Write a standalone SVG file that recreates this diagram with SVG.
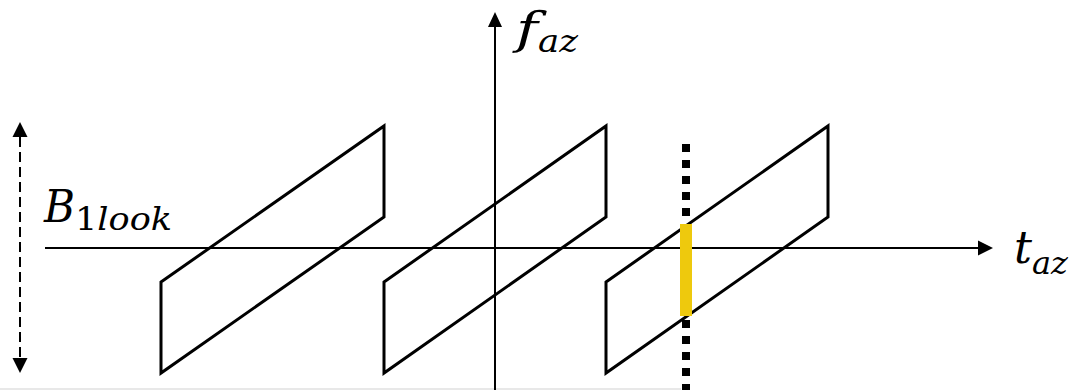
<svg xmlns="http://www.w3.org/2000/svg" width="1076" height="390" viewBox="0 0 1076 390">
<style>
.shape{fill:none;stroke:#000;stroke-width:3;stroke-linejoin:miter}
.axis{stroke:#000;stroke-width:2;fill:none}
.head{fill:#000;stroke:none}
.math{font-family:"DejaVu Serif","Liberation Serif",serif;font-style:italic;fill:#000}
.up{font-style:normal}
.big{font-size:44px}
.sub{font-size:31px}
</style>
<rect x="0" y="0" width="1076" height="390" fill="#fff"/>
<rect x="0" y="388" width="681" height="2" fill="#e8e8e8"/>
<g id="connectors">
  <line class="axis" x1="45" y1="248" x2="980" y2="248"/>
  <polygon class="head" points="978,240.5 993,248 978,255.5"/>
  <line class="axis" x1="495" y1="390" x2="495" y2="25"/>
  <polygon class="head" points="488,27 495,12 502,27"/>
  <line class="axis" x1="20" y1="137" x2="20" y2="358" stroke-dasharray="10 5"/>
  <polygon class="head" points="12.5,137 20,122 27.5,137"/>
  <polygon class="head" points="12.5,358 20,373 27.5,358"/>
</g>
<g id="parallelogram1"><polygon class="shape" points="161,282 384,126 384,217 161,373"/></g>
<g id="parallelogram2"><polygon class="shape" points="384,282 606,126 606,217 384,373"/></g>
<g id="parallelogram3"><polygon class="shape" points="606,282 828,126 828,217 606,373"/></g>
<g id="cut-line">
  <line x1="686" y1="144" x2="686" y2="390" stroke="#000" stroke-width="8" stroke-dasharray="8 8"/>
  <rect x="680" y="224" width="12" height="92" fill="#EEC90D"/>
</g>
<g id="label-faz">
  <text class="math big" x="516" y="44" textLength="22" lengthAdjust="spacingAndGlyphs">f</text>
  <text class="math sub" x="538" y="52" textLength="40" lengthAdjust="spacingAndGlyphs">az</text>
</g>
<g id="label-taz">
  <text class="math big" x="1014" y="263" textLength="18" lengthAdjust="spacingAndGlyphs">t</text>
  <text class="math sub" x="1032" y="274" textLength="36" lengthAdjust="spacingAndGlyphs">az</text>
</g>
<g id="label-B1look">
  <text class="math big" x="44" y="222" textLength="31" lengthAdjust="spacingAndGlyphs">B</text>
  <text class="math sub" x="75" y="230" textLength="97" lengthAdjust="spacingAndGlyphs"><tspan class="up">1</tspan>look</text>
</g>
</svg>
